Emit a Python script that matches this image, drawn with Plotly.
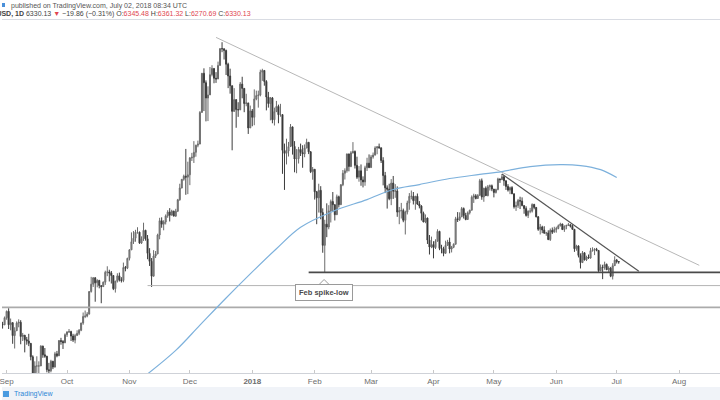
import plotly.graph_objects as go
import pandas as pd

# ---------------- data (BTCUSD, daily) ----------------
start_date = "2017-08-29"
first_open = 4390

close = [
    # Aug 29-31
    4580, 4570, 4740,
    # Sep
    4900, 4570, 4620, 4320, 4430, 4610, 4630, 4300, 4330, 4230,
    4200, 4150, 3870, 3240, 3690, 3690, 3690, 4090, 3910, 3880,
    3620, 3600, 3780, 3670, 3930, 3890, 4210, 4190, 4160, 4340,
    # Oct
    4400, 4410, 4310, 4220, 4320, 4370, 4440, 4610, 4770, 4780,
    4830, 5430, 5640, 5830, 5680, 5750, 5600, 5570, 5700, 6000,
    6010, 5980, 5900, 5510, 5730, 5890, 5770, 5750, 6150, 6130, 6450,
    # Nov
    6740, 7030, 7160, 7390, 7390, 6980, 7140, 7460, 7140, 6620,
    6350, 5880, 6530, 6600, 7280, 7840, 7700, 7790, 8040, 8200,
    8070, 8240, 8030, 8240, 8740, 9290, 9720, 9880, 9830, 9950,
    # Dec
    10860, 10900, 11180, 11600, 11670, 13750, 16850, 16050, 14820, 15060,
    16730, 17280, 16420, 16360, 17550, 19150, 19140, 18970, 17660, 16620,
    15800, 13830, 14700, 13960, 13940, 15930, 15580, 14400, 14450, 12690, 13860,
    # Jan
    13410, 14750, 15010, 15050, 16950, 17100, 16150, 14900, 14400, 14830,
    13240, 13810, 14190, 13590, 13600, 11300, 11120, 11250, 11520, 12760,
    11530, 10800, 10820, 11350, 11170, 11090, 11430, 11780, 11210, 10110, 10240,
    # Feb
    9110, 8830, 9180, 8180, 6900, 7700, 7590, 8250, 8660, 8520,
    8090, 8880, 8520, 9450, 10030, 10160, 11090, 10390, 11150, 11230,
    10450, 9830, 10160, 9690, 9590, 10320, 10570, 10330,
    # Mar
    10920, 11020, 11440, 11510, 11450, 10720, 9910, 9300, 9230, 8790,
    9530, 9140, 9150, 8200, 8260, 8270, 7860, 8200, 8600, 8900,
    8900, 8700, 8900, 8550, 8460, 8150, 7790, 7950, 7090, 6840, 6930,
    # Apr
    6820, 7050, 7420, 6790, 6780, 6620, 6900, 7020, 6770, 6830,
    6940, 7920, 7890, 8000, 8350, 8060, 7890, 8170, 8280, 8860,
    8920, 8800, 8940, 9650, 8870, 9280, 8930, 9350, 9400, 9240,
    # May
    9080, 9220, 9740, 9700, 9850, 9650, 9370, 9190, 9310, 9020,
    8430, 8480, 8710, 8680, 8480, 8350, 8060, 8240, 8240, 8530,
    8400, 8000, 7500, 7590, 7470, 7350, 7360, 7110, 7460, 7390, 7490,
    # Jun
    7530, 7640, 7710, 7490, 7620, 7650, 7680, 7620, 7500, 6780,
    6880, 6550, 6310, 6640, 6400, 6490, 6460, 6710, 6740, 6760,
    6720, 6050, 6160, 6150, 6250, 6080, 6130, 5880, 6210, 6390,
    # Jul 1-2
    6345.48, 6330.13,
]

high = [
    4630, 4640, 4770,
    4920, 4980, 4720, 4630, 4510, 4650, 4700, 4680, 4380, 4330,
    4290, 4360, 4150, 3900, 3780, 3880, 3780, 4110, 4100, 4050,
    3890, 3750, 3810, 3790, 3970, 3990, 4220, 4270, 4220, 4370,
    4420, 4470, 4430, 4360, 4360, 4440, 4470, 4620, 4870, 4920,
    4880, 5440, 5860, 5850, 5850, 5790, 5770, 5600, 5720, 6050,
    6190, 6080, 6040, 5900, 5740, 5970, 5990, 5850, 6310, 6200, 6470,
    6760, 7380, 7430, 7480, 7580, 7410, 7230, 7760, 7480, 7280,
    6800, 6460, 6730, 6700, 7330, 7960, 7980, 7860, 8100, 8280,
    8370, 8300, 8260, 8340, 8780, 9500, 9730, 9960, 11380, 10650,
    10910, 11150, 11850, 11630, 11880, 13850, 16870, 17290, 16240, 15750,
    17410, 17570, 17280, 16950, 17900, 19190, 19800, 19150, 19050, 17800,
    17260, 15800, 15600, 14700, 14500, 16100, 16550, 15600, 15150, 14450, 14250,
    14000, 15500, 15400, 15400, 17170, 17250, 17100, 16260, 15300, 14900,
    14900, 14100, 14600, 14320, 14380, 13600, 11700, 12000, 11800, 12950,
    12760, 11850, 11370, 11500, 11700, 11600, 11650, 12000, 11780, 11250, 10360,
    10240, 9150, 9500, 9380, 8360, 7880, 8580, 8500, 8750, 9100,
    8540, 8980, 8930, 9480, 10200, 10290, 11100, 11100, 11250, 11790,
    11290, 10930, 10410, 10500, 9870, 10430, 10870, 11060,
    11030, 11170, 11540, 11520, 11700, 11450, 10900, 10100, 9420, 9500,
    9730, 9890, 9480, 9370, 8420, 8600, 8350, 8260, 8700, 9050,
    9170, 9100, 8920, 9030, 8680, 8500, 8220, 8100, 7970, 7280, 7220,
    7050, 7120, 7500, 7440, 6920, 6850, 7070, 7100, 7180, 6880,
    6970, 8000, 8200, 8190, 8420, 8400, 8170, 8230, 8300, 8940,
    9020, 9000, 9000, 9740, 9760, 9300, 9370, 9440, 9460, 9460,
    9240, 9260, 9800, 9760, 9990, 9900, 9650, 9480, 9360, 9380,
    9020, 8660, 8780, 8880, 8850, 8480, 8450, 8270, 8380, 8580,
    8560, 8420, 8030, 7710, 7640, 7620, 7400, 7460, 7530, 7570, 7600,
    7600, 7690, 7760, 7720, 7650, 7680, 7750, 7700, 7690, 7500,
    6920, 6900, 6620, 6700, 6650, 6540, 6580, 6810, 6830, 6800,
    6810, 6730, 6250, 6240, 6340, 6280, 6190, 6170, 6290, 6520,
    6430, 6361.32,
]

low = [
    4330, 4480, 4560,
    4690, 4470, 4440, 4140, 4040, 4430, 4510, 4130, 4200, 3960,
    4120, 4090, 3800, 3220, 2970, 3560, 3500, 3690, 3850, 3850,
    3570, 3500, 3570, 3630, 3660, 3860, 3890, 4120, 4030, 4160,
    4290, 4380, 4200, 4180, 4150, 4320, 4330, 4420, 4570, 4730,
    4750, 4820, 5400, 5560, 5150, 5550, 5520, 5110, 5560, 5620,
    5880, 5720, 5660, 5470, 5400, 5690, 5720, 5690, 5700, 6030, 6100,
    6380, 6740, 6950, 7030, 7330, 6960, 6950, 7060, 7070, 6420,
    6200, 5560, 5870, 6460, 6590, 7120, 7560, 7460, 7690, 7960,
    7810, 8080, 8020, 8000, 8200, 8700, 9280, 9650, 8970, 9000,
    9430, 10690, 10580, 10930, 11480, 11670, 13750, 13850, 13130, 13150,
    15060, 16580, 16000, 16030, 16350, 17550, 18800, 18100, 16700, 15600,
    15160, 11300, 13800, 12700, 13440, 13920, 14800, 13770, 14200, 12300, 12700,
    12800, 12870, 14650, 14100, 14950, 16200, 15800, 13900, 14100, 13200,
    13000, 12850, 13780, 13000, 13450, 10000, 9200, 10500, 10940, 11520,
    11050, 10080, 10030, 10550, 10970, 10320, 10900, 11430, 11080, 10040, 9700,
    8750, 7700, 8180, 7900, 6640, 6000, 7200, 7500, 7770, 8200,
    7850, 8090, 8400, 8520, 9380, 9710, 10060, 10130, 10350, 11110,
    10280, 9740, 9600, 9400, 9320, 9400, 10150, 10300,
    10330, 10820, 11000, 11070, 11390, 10580, 9420, 9050, 8350, 8720,
    8500, 8780, 8830, 8000, 7700, 7930, 7780, 7300, 8100, 8300,
    8760, 8530, 8300, 8510, 8360, 7850, 7780, 7740, 6950, 6580, 6800,
    6450, 6770, 7040, 6730, 6620, 6520, 6610, 6890, 6620, 6650,
    6800, 6930, 7790, 7830, 8000, 7930, 7860, 7880, 8100, 8270,
    8600, 8760, 8790, 8940, 8740, 8650, 8920, 8900, 9170, 9140,
    8850, 9030, 9180, 9540, 9690, 9400, 9200, 9120, 9000, 9000,
    8350, 8250, 8380, 8330, 8450, 8130, 8010, 7950, 8150, 8180,
    8320, 7980, 7440, 7300, 7350, 7330, 7250, 7090, 7060, 7320, 7380,
    7370, 7500, 7610, 7470, 7400, 7500, 7630, 7570, 7480, 6670,
    6710, 6480, 6120, 6300, 6380, 6360, 6440, 6440, 6680, 6560,
    6690, 6000, 6030, 5790, 6080, 6070, 6010, 5850, 5780, 6200,
    6280, 6270.69,
]

# 200-day moving average
ma_dates = ["2017-11-10", "2017-11-24", "2017-12-06", "2017-12-19", "2017-12-31",
            "2018-01-13", "2018-01-25", "2018-02-10", "2018-02-27", "2018-03-12",
            "2018-03-25", "2018-04-09", "2018-04-24", "2018-05-05", "2018-05-19",
            "2018-06-03", "2018-06-13", "2018-06-23", "2018-07-01"]
ma_values = [3540, 4000, 4560, 5250, 5950, 6780, 7580, 8230, 8750, 9220,
             9460, 9760, 9970, 10120, 10380, 10490, 10440, 10220, 9810]

# drawings
trend1_dates = ["2017-12-14", "2018-08-11"]
trend1_prices = [20300, 6220]
trend2_dates = ["2018-05-05", "2018-07-12"]
trend2_prices = [9990, 6030]
feb_low_dates = ["2018-01-29", "2018-08-22"]
feb_low_prices = [6000, 6000]
nov_low_dates = ["2017-11-10", "2018-08-22"]
nov_low_prices = [5600, 5600]
sep_high_dates = ["2017-08-20", "2018-08-22"]
sep_high_prices = [5000, 5000]

tick_dates = ["2017-09-01", "2017-10-01", "2017-11-01", "2017-12-01", "2018-01-01",
              "2018-02-01", "2018-03-01", "2018-04-01", "2018-05-01", "2018-06-01",
              "2018-07-01", "2018-08-01"]
tick_labels = ["Sep", "Oct", "Nov", "Dec", "<b>2018</b>", "Feb", "Mar", "Apr",
               "May", "Jun", "Jul", "Aug"]

# ---------------- figure ----------------
dates = pd.date_range(start_date, periods=len(close), freq="D")
opens = [first_open] + close[:-1]
opens[-1] = 6345.48

FONT = "Liberation Sans, Arial, sans-serif"
W, H = 720, 400
T, B = 20, 27
PH = H - T - B


def px(x):
    return x / W


def py(y):
    return (H - B - y) / PH


fig = go.Figure()

for d, p, c, w in [(sep_high_dates, sep_high_prices, "#ababab", 1.6),
                   (nov_low_dates, nov_low_prices, "#b5b5b5", 1),
                   (trend1_dates, trend1_prices, "#b8b8b8", 1),
                   (trend2_dates, trend2_prices, "#555555", 1.2),
                   (feb_low_dates, feb_low_prices, "#4a4a4a", 1.8)]:
    fig.add_trace(go.Scatter(x=d, y=p, mode="lines", line=dict(color=c, width=w),
                             hoverinfo="skip", showlegend=False))

fig.add_trace(go.Scatter(x=ma_dates, y=ma_values, mode="lines",
                         line=dict(color="#7db1dc", width=1.2, shape="spline"),
                         hoverinfo="skip", showlegend=False))

fig.add_trace(go.Candlestick(
    x=dates, open=opens, high=high, low=low, close=close,
    increasing=dict(line=dict(color="#6b6b6b", width=1), fillcolor="#9a9a9a"),
    decreasing=dict(line=dict(color="#3c3c3c", width=1), fillcolor="#2a2a2a"),
    showlegend=False, hoverinfo="skip"))

red = "#e0464f"
line2 = ("<b>BTCUSD, 1D</b> 6330.13 <span style='color:%s'>▼</span> −19.86 (−0.31%%) "
         "O:<span style='color:%s'>6345.48</span> H:<span style='color:%s'>6361.32</span> "
         "L:<span style='color:%s'>6270.69</span> C:<span style='color:%s'>6330.13</span>"
         % (red, red, red, red, red))

annotations = [
    dict(xref="paper", yref="paper", x=px(7), y=py(5.5), xanchor="left", yanchor="middle",
         text="published on TradingView.com, July 02, 2018 08:34 UTC", showarrow=False,
         font=dict(family=FONT, size=7, color="#555555")),
    dict(xref="paper", yref="paper", x=px(-22), y=py(13.5), xanchor="left", yanchor="middle",
         text=line2, showarrow=False, font=dict(family=FONT, size=7, color="#444444")),
    dict(xref="paper", yref="paper", x=px(323), y=py(292), xanchor="center", yanchor="middle",
         text="<b>Feb spike-low</b>", showarrow=False,
         font=dict(family=FONT, size=7.5, color="#4a4a4a"),
         bgcolor="#ffffff", bordercolor="#9a9a9a", borderwidth=1, borderpad=3),
    dict(xref="paper", yref="paper", x=px(10), y=py(394), xanchor="left", yanchor="middle",
         text="TradingView", showarrow=False, font=dict(family=FONT, size=7, color="#2f86d6")),
]

shapes = [
    dict(type="line", xref="paper", yref="paper", x0=0, x1=1, y0=py(19.5), y1=py(19.5),
         line=dict(color="#d9dce3", width=1)),
    dict(type="rect", xref="paper", yref="paper", x0=px(0), x1=px(3), y0=py(7), y1=py(3),
         fillcolor="#4a90d9", line=dict(width=0)),
    dict(type="rect", xref="paper", yref="paper", x0=0, x1=1, y0=py(387), y1=py(401),
         fillcolor="#f0f3f8", line=dict(width=0), layer="below"),
    dict(type="rect", xref="paper", yref="paper", x0=px(1), x1=px(7), y0=py(397), y1=py(391),
         fillcolor="#4a9be0", line=dict(width=0)),
    dict(type="path", xref="paper", yref="paper",
         path="M %f %f L %f %f L %f %f Z" % (px(318), py(284.5), px(323), py(279.5),
                                             px(328), py(284.5)),
         fillcolor="#ffffff", line=dict(color="#9a9a9a", width=1)),
]

fig.update_layout(
    width=W, height=H,
    margin=dict(l=0, r=0, t=T, b=B),
    paper_bgcolor="#ffffff", plot_bgcolor="#ffffff",
    showlegend=False,
    annotations=annotations, shapes=shapes,
    xaxis=dict(type="date", range=["2017-08-29 17:00", "2018-08-21 07:00"],
               rangeslider=dict(visible=False),
               tickvals=tick_dates, ticktext=tick_labels,
               tickfont=dict(family=FONT, size=8, color="#6e6e6e"),
               ticklabeloverflow="allow",
               showgrid=False, zeroline=False,
               showline=True, linecolor="#cfd2d8", linewidth=1,
               ticks="inside", ticklen=3, tickcolor="#c8c8c8"),
    yaxis=dict(type="log", range=[3.55118, 4.34669], visible=False, showgrid=False,
               zeroline=False),
)

fig.write_html("out.html")
